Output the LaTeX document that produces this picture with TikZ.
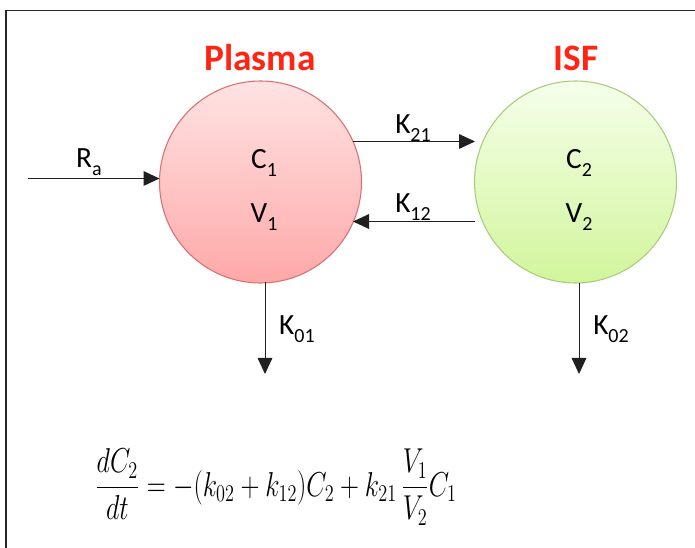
\documentclass[tikz,border=0pt]{standalone}
\usepackage{fontspec}
\setmainfont{Carlito}
\usetikzlibrary{arrows.meta}
\definecolor{titlered}{HTML}{FF2414}
\definecolor{pTop}{HTML}{FFE3E3}
\definecolor{pBot}{HTML}{FFA8A8}
\definecolor{pEdge}{HTML}{D97070}
\definecolor{gTop}{HTML}{F5FFEA}
\definecolor{gBot}{HTML}{D2F59C}
\definecolor{gEdge}{HTML}{A9CB7A}
\definecolor{lineg}{HTML}{202020}
\newcommand{\sbs}[1]{\raisebox{-0.28em}{\fontsize{15}{15}\selectfont #1}}
\tikzset{
  comp/.style={circle, draw, line width=0.8pt, minimum size=151.5pt, inner sep=0pt},
  plasmac/.style={comp, draw=pEdge, top color=pTop, bottom color=pBot},
  isfc/.style={comp, draw=gEdge, top color=gTop, bottom color=gBot},
  ttl/.style={text=titlered, font=\fontsize{28}{30}\selectfont\bfseries},
  lbl/.style={font=\fontsize{22}{26}\selectfont, inner sep=0pt},
  flow/.style={draw=lineg, line width=0.75pt, -{Triangle[length=12pt,width=11pt]}},
  frame/.style={draw=black!85, line width=1.2pt}
}
\begin{document}
\begin{tikzpicture}[x=0.75pt,y=-0.75pt]
\useasboundingbox (0,0) rectangle (695,548);
\draw[frame] (6,548) -- (6,10.5) -- (695,10.5);
\node[plasmac] (P) at (260.5,182) {};
\node[isfc] (I) at (575.5,182) {};
\node[ttl] (tP) at (260,58) {Plasma};
\node[ttl] (tI) at (576,58) {ISF};
\node[lbl] (C1) at (264,163) {C\sbs{1}};
\node[lbl] (V1) at (264,217) {V\sbs{1}};
\node[lbl] (C2) at (579,163) {C\sbs{2}};
\node[lbl] (V2) at (579,217) {V\sbs{2}};
% arrows between compartments
\coordinate (a1) at (353,141.5);
\coordinate (a2) at (475,141.5);
\coordinate (b1) at (475,221.5);
\coordinate (b2) at (353,221.5);
\draw[flow] (a1) -- (a2);
\draw[flow] (b1) -- (b2);
\node[lbl] (k21) at (413,128) {K\sbs{21}};
\node[lbl] (k12) at (413,207) {K\sbs{12}};
% input
\coordinate (ra) at (28,178.5);
\coordinate (pin) at (159.5,178.5);
\draw[flow] (ra) -- (pin);
\node[lbl] (Ra) at (89,162) {R\sbs{a}};
% outputs
\coordinate (o1s) at (265,282.5);
\coordinate (o1e) at (265,374);
\coordinate (o2s) at (579,283);
\coordinate (o2e) at (579,374);
\draw[flow] (o1s) -- (o1e);
\draw[flow] (o2s) -- (o2e);
\node[lbl] (k01) at (297,329) {K\sbs{01}};
\node[lbl] (k02) at (611,329) {K\sbs{02}};
% equation
\node[inner sep=0pt] (eq) at (276,487) {\scalebox{0.95}[1.25]{\fontsize{21.5}{25}\selectfont
$\displaystyle \frac{dC_2}{dt} = -(k_{02}+k_{12})C_2 + k_{21}\,\frac{V_1}{V_2}C_1$}};
\end{tikzpicture}
\end{document}
